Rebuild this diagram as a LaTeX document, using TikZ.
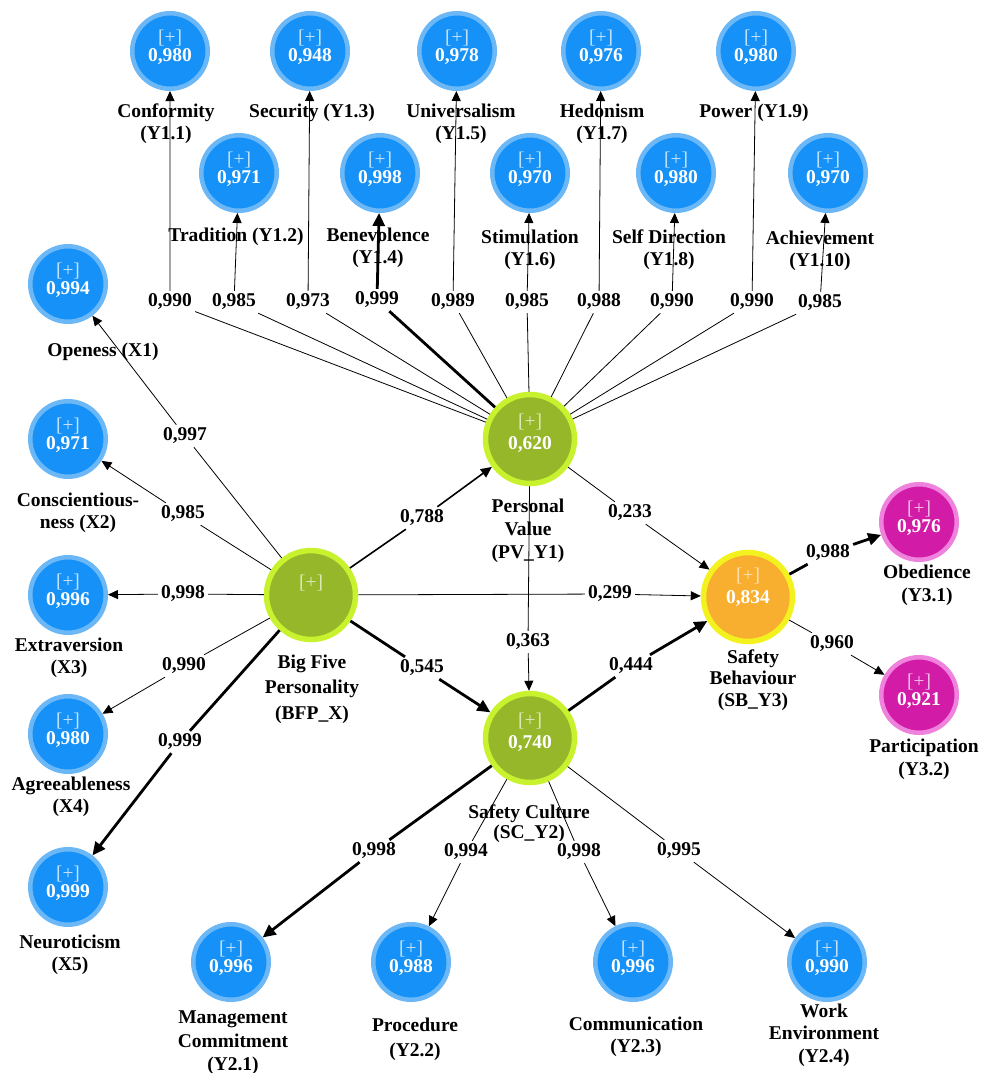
\documentclass[tikz,border=0pt]{standalone}
\usepackage{fontspec}
\setmainfont{Liberation Serif}
\usetikzlibrary{arrows.meta}
\definecolor{bin}{HTML}{1591F7}
\definecolor{bring}{HTML}{6CB8F7}
\definecolor{gin}{HTML}{97B72A}
\definecolor{gring}{HTML}{C9F22E}
\definecolor{oin}{HTML}{F8AE2E}
\definecolor{oring}{HTML}{F4F21E}
\definecolor{min}{HTML}{D21BA6}
\definecolor{mring}{HTML}{EE82DC}
\colorlet{bpl}{white!75!bin}
\colorlet{gpl}{white!68!gin}
\colorlet{opl}{white!62!oin}
\colorlet{mpl}{white!72!min}
\newcommand\pl[1]{{\mdseries\color{#1}[+]}}
\tikzset{
  ind/.style={circle, minimum size=75.5pt, inner sep=0pt, fill=bin, draw=bring, line width=4.5pt},
  mag/.style={ind, fill=min, draw=mring},
  lat/.style={circle, minimum size=89pt, inner sep=0pt, fill=gin, draw=gring, line width=5.5pt},
  sbs/.style={lat, fill=oin, draw=oring},
  intxt/.style={align=center, text=white, inner sep=0pt, yshift=3.5pt, font=\bfseries\fontsize{19.5}{18}\selectfont},
  lattxt/.style={intxt, yshift=2.5pt, font=\bfseries\fontsize{19.5}{22}\selectfont},
  txt/.style={align=center, inner sep=0pt, font=\bfseries\fontsize{19.5}{22}\selectfont},
  coef/.style={fill=white, inner sep=3pt, font=\bfseries\fontsize{19.5}{22}\selectfont},
  wthin/.style={line width=0.8pt, -{Triangle[length=10pt,width=9pt]}},
  wmid/.style={line width=1.6pt, -{Triangle[length=11pt,width=10pt]}},
  wthick/.style={line width=2.8pt, -{Triangle[length=13pt,width=12pt]}},
}
\newcommand\IND[4]{\node[ind,label={[intxt]center:{\pl{bpl}\\#4}}] (#1) at (#2,#3) {};}
\newcommand\TX[4]{\node[txt] (#1) at (#2,#3) {#4};}
\newcommand\CF[4]{\node[coef] (#1) at (#2,#3) {#4};}
\begin{document}
\begin{tikzpicture}[x=1pt,y=-1pt]
\useasboundingbox (0,0) rectangle (987,1073);
\fill[white] (0,0) rectangle (987,1073);
% indicators
\IND{conf}{170}{51}{0,980}
\IND{secu}{310}{51}{0,948}
\IND{univ}{457}{51}{0,978}
\IND{hedo}{601}{51}{0,976}
\IND{powe}{756}{51}{0,980}
\IND{trad}{239}{173}{0,971}
\IND{bene}{380}{173}{0,998}
\IND{stim}{530}{173}{0,970}
\IND{self}{676}{173}{0,980}
\IND{achi}{828}{173}{0,970}
\IND{open}{68}{284}{0,994}
\IND{cons}{68}{439}{0,971}
\IND{extr}{68}{595}{0,996}
\IND{agre}{68}{734}{0,980}
\IND{neur}{68}{887}{0,999}
\IND{mc}{231}{962}{0,996}
\IND{proc}{411}{962}{0,988}
\IND{comm}{633}{962}{0,996}
\IND{work}{827}{962}{0,990}
\node[mag,label={[intxt]center:{\pl{mpl}\\0,976}}] (obed) at (919,522) {};
\node[mag,label={[intxt]center:{\pl{mpl}\\0,921}}] (part) at (919,695) {};
% latents
\node[lat,label={[lattxt]center:{\pl{gpl}\\0,620}}] (pv) at (530,439) {};
\node[lat,label={[lattxt,yshift=5.5pt]center:{\pl{gpl}}}] (bfp) at (311,595) {};
\node[lat,label={[lattxt]center:{\pl{gpl}\\0,740}}] (sc) at (530,738) {};
\node[sbs,label={[lattxt,yshift=3.5pt]center:{\pl{opl}\\0,834}}] (sb) at (748,597) {};
% descriptive labels
\TX{tconf}{166}{124}{Conformity\\(Y1.1)}
\TX{tsecu}{312}{113}{Security (Y1.3)}
\TX{tuniv}{461}{124}{Universalism\\(Y1.5)}
\TX{thedo}{602}{124}{Hedonism\\(Y1.7)}
\TX{tpowe}{754}{113}{Power (Y1.9)}
\TX{ttrad}{236}{237}{Tradition (Y1.2)}
\TX{tbene}{378}{248}{Benevolence\\(Y1.4)}
\TX{tstim}{530}{250}{Stimulation\\(Y1.6)}
\TX{tself}{669}{250}{Self Direction\\(Y1.8)}
\TX{tachi}{820}{251}{Achievement\\(Y1.10)}
\TX{topen}{103}{352}{Openess (X1)}
\TX{tcons}{78}{513}{Conscientious-\\ness (X2)}
\TX{textr}{69}{658}{Extraversion\\(X3)}
\TX{tagre}{71}{797}{Agreeableness\\(X4)}
\TX{tneur}{70}{955}{Neuroticism\\(X5)}
\node[txt,font=\bfseries\fontsize{19.5}{25.5}\selectfont] (tbfp) at (312,689) {Big Five\\Personality\\(BFP\_X)};
\node[txt,font=\bfseries\fontsize{19.5}{23}\selectfont] (tpv) at (528,531) {Personal\\Value\\(PV\_Y1)};
\node[txt,font=\bfseries\fontsize{19.5}{20}\selectfont] (tsc) at (529,824) {Safety Culture\\(SC\_Y2)};
\node[txt,font=\bfseries\fontsize{19.5}{21.5}\selectfont] (tsb) at (753,680) {Safety\\Behaviour\\(SB\_Y3)};
\node[txt,font=\bfseries\fontsize{19.5}{23}\selectfont] (tobed) at (927,585) {Obedience\\(Y3.1)};
\node[txt,font=\bfseries\fontsize{19.5}{23}\selectfont] (tpart) at (924,759) {Participation\\(Y3.2)};
\node[txt,font=\bfseries\fontsize{19.5}{23.5}\selectfont] (tmc) at (233,1043) {Management\\Commitment\\(Y2.1)};
\node[txt,font=\bfseries\fontsize{19.5}{25}\selectfont] (tproc) at (415,1039) {Procedure\\(Y2.2)};
\node[txt,font=\bfseries\fontsize{19.5}{22}\selectfont] (tcomm) at (636,1037) {Communication\\(Y2.3)};
\node[txt,font=\bfseries\fontsize{19.5}{22.5}\selectfont] (twork) at (824,1035) {Work\\Environment\\(Y2.4)};
% coefficient labels
\CF{c11}{170}{302}{0,990}
\CF{c12}{234}{302}{0,985}
\CF{c13}{308}{302}{0,973}
\CF{c14}{377}{300}{0,999}
\CF{c15}{453}{302}{0,989}
\CF{c16}{527}{302}{0,985}
\CF{c17}{599}{302}{0,988}
\CF{c18}{672}{302}{0,990}
\CF{c19}{752}{302}{0,990}
\CF{c110}{820}{303}{0,985}
\CF{cx1}{185}{436}{0,997}
\CF{cx2}{183}{514}{0,985}
\CF{cx3}{183}{594}{0,998}
\CF{cx4}{184}{666}{0,990}
\CF{cx5}{180}{742}{0,999}
\CF{cbp}{422}{518}{0,788}
\CF{cbs}{610}{594}{0,299}
\CF{cbc}{422}{668}{0,545}
\CF{cps}{630}{513}{0,233}
\CF{cpc}{528}{642}{0,363}
\CF{ccs}{631}{666}{0,444}
\CF{cso}{828}{553}{0,988}
\CF{csp}{832}{644}{0,960}
\CF{cc1}{374}{851}{0,998}
\CF{cc2}{466}{852}{0,994}
\CF{cc3}{579}{852}{0,998}
\CF{cc4}{679}{851}{0,995}
% PV outer loadings
\draw[wthin] (pv) -- (c11) -- (conf);
\draw[wthin] (pv) -- (c12) -- (trad);
\draw[wthin] (pv) -- (c13) -- (secu);
\draw[wthick] (pv) -- (c14) -- (bene);
\draw[wthin] (pv) -- (c15) -- (univ);
\draw[wthin] (pv) -- (c16) -- (stim);
\draw[wthin] (pv) -- (c17) -- (hedo);
\draw[wthin] (pv) -- (c18) -- (self);
\draw[wthin] (pv) -- (c19) -- (powe);
\draw[wthin] (pv) -- (c110) -- (achi);
% BFP outer loadings
\draw[wthin] (bfp) -- (cx1) -- (open);
\draw[wthin] (bfp) -- (cx2) -- (cons);
\draw[wthin] (bfp) -- (cx3) -- (extr);
\draw[wthin] (bfp) -- (cx4) -- (agre);
\draw[wthick] (bfp) -- (cx5) -- (neur);
% structural paths
\draw[wmid] (bfp) -- (cbp) -- (pv);
\draw[wthin] (bfp) -- (cbs) -- (sb);
\draw[wthick] (bfp) -- (cbc) -- (sc);
\draw[wthin] (pv) -- (cps) -- (sb);
\draw[wthin] (pv) -- (cpc) -- (sc);
\draw[wthick] (sc) -- (ccs) -- (sb);
% SB outer loadings
\draw[wthick] (sb) -- (cso) -- (obed);
\draw[wthin] (sb) -- (csp) -- (part);
% SC outer loadings
\draw[wthick] (sc) -- (cc1) -- (mc);
\draw[wthin] (sc) -- (cc2) -- (proc);
\draw[wthin] (sc) -- (cc3) -- (comm);
\draw[wthin] (sc) -- (cc4) -- (work);
\end{tikzpicture}
\end{document}
